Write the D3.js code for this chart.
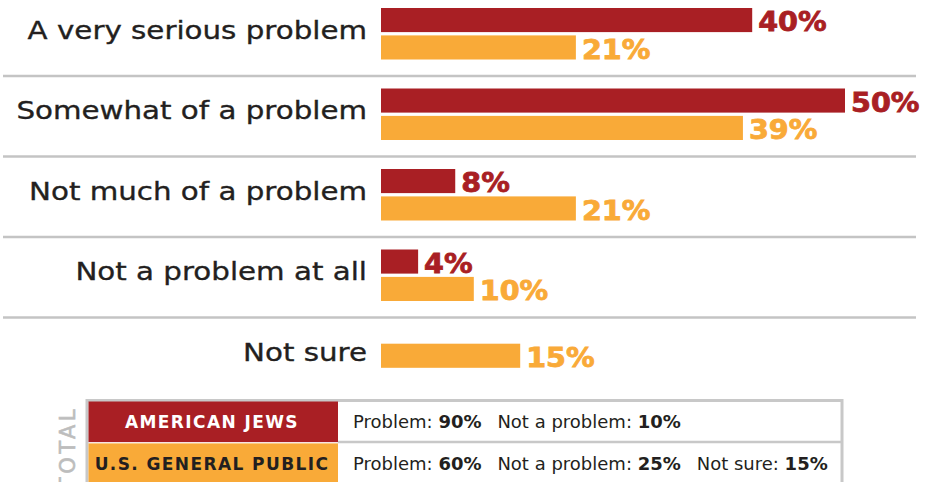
<!DOCTYPE html>
<html>
<head>
<meta charset="utf-8">
<script src="https://cdn.jsdelivr.net/npm/d3@7"></script>
<style>
  html, body { margin: 0; padding: 0; background: #fff; }
  svg { display: block; }
  .cat { font-family: "DejaVu Sans", sans-serif; font-size: 25.5px; fill: #231f20; stroke: #231f20; stroke-width: 0.35px; }
  .val { font-family: "DejaVu Sans", sans-serif; font-weight: 700; font-size: 26px; stroke-width: 0.8px; }
  .key { font-family: "DejaVu Sans", sans-serif; font-weight: 700; font-size: 17px; letter-spacing: 1.4px; }
  .summary { font-family: "DejaVu Sans", sans-serif; font-size: 17px; fill: #231f20; }
  .summary .b { font-weight: 700; }
</style>
</head>
<body>
<svg id="chart" width="925" height="482"></svg>
<script>
// Responses to "How much of a problem is antisemitism?"
const categories = ["A very serious problem", "Somewhat of a problem", "Not much of a problem", "Not a problem at all", "Not sure"];
const groups = ["American Jews", "U.S. General Public"];
const jewsValues = [40, 50, 8, 4, null];
const publicValues = [21, 39, 21, 10, 15];
const colors = ["#a91f24", "#f9aa38"];

// Totals summary rows
const keyLabels = ["AMERICAN JEWS", "U.S. GENERAL PUBLIC"];
const summaryItems = [
  [["Problem: ", "90%"], ["Not a problem: ", "10%"]],
  [["Problem: ", "60%"], ["Not a problem: ", "25%"], ["Not sure: ", "15%"]]
];

const svg = d3.select("#chart");

const x = d3.scaleLinear().domain([0, 50]).range([381, 845]);
const y = d3.scaleBand().domain(categories).range([0, 402.5]).paddingInner(0);
const ySub = d3.scaleBand().domain(groups).range([8, 59.5]).paddingInner(0.12);
const color = d3.scaleOrdinal().domain(groups).range(colors);

const rows = categories.map((c, i) => {
  const values = [
    { group: groups[0], value: jewsValues[i] },
    { group: groups[1], value: publicValues[i] }
  ].filter(d => d.value != null);
  // a row with a single series keeps its bar centred in the row
  const mid = (ySub.range()[0] + ySub.range()[1]) / 2;
  const n = values.length;
  values.forEach((d, j) => {
    d.y = mid - ySub.bandwidth() / 2 + (j - (n - 1) / 2) * ySub.step();
  });
  return { category: c, values };
});

// Separators between categories
svg.append("g")
  .selectAll("line")
  .data(categories.slice(0, -1))
  .join("line")
  .attr("x1", 3).attr("x2", 916)
  .attr("y1", d => y(d) + 76).attr("y2", d => y(d) + 76)
  .attr("stroke", "#c4c4c4").attr("stroke-width", 2.5);

const g = svg.append("g")
  .selectAll("g")
  .data(rows)
  .join("g")
  .attr("transform", d => `translate(0,${y(d.category)})`);

g.append("text")
  .attr("class", "cat")
  .attr("transform", "translate(367,38.5) scale(1.15,1)")
  .attr("text-anchor", "end")
  .text(d => d.category);

g.selectAll("rect")
  .data(d => d.values)
  .join("rect")
  .attr("x", x(0))
  .attr("y", d => d.y)
  .attr("width", d => x(d.value) - x(0))
  .attr("height", ySub.bandwidth())
  .attr("fill", d => color(d.group));

g.selectAll("text.val")
  .data(d => d.values)
  .join("text")
  .attr("class", "val")
  .attr("transform", d => `translate(${x(d.value) + 6},${d.y + ySub.bandwidth() - 1}) scale(1.1,1)`)
  .attr("fill", d => color(d.group))
  .attr("stroke", d => color(d.group))
  .text(d => d.value + "%");

// Totals box
const box = svg.append("g");
const keyY = d3.scaleBand().domain(keyLabels).range([401.5, 484]).paddingInner(0.03);

box.append("rect")
  .attr("x", 87).attr("y", 400.5)
  .attr("width", 755).attr("height", 100)
  .attr("fill", "#fff").attr("stroke", "#c8c8c8").attr("stroke-width", 3);

box.append("line")
  .attr("x1", 338).attr("x2", 843)
  .attr("y1", 442).attr("y2", 442)
  .attr("stroke", "#c8c8c8").attr("stroke-width", 2.5);

box.selectAll("rect.key")
  .data(keyLabels)
  .join("rect")
  .attr("class", "key")
  .attr("x", 88.5)
  .attr("y", d => keyY(d))
  .attr("width", 249.5)
  .attr("height", keyY.bandwidth())
  .attr("fill", (d, i) => colors[i]);

box.selectAll("text.key")
  .data(keyLabels)
  .join("text")
  .attr("class", "key")
  .attr("x", 212)
  .attr("y", d => keyY(d) + keyY.bandwidth() / 2 + 6.5)
  .attr("text-anchor", "middle")
  .attr("fill", (d, i) => i === 0 ? "#ffffff" : "#231f20")
  .text(d => d);

box.selectAll("text.summary")
  .data(summaryItems)
  .join("text")
  .attr("class", "summary")
  .attr("transform", (d, i) => `translate(353,${keyY(keyLabels[i]) + keyY.bandwidth() / 2 + 6.5}) scale(1.06,1)`)
  .each(function(items) {
    const t = d3.select(this);
    items.forEach((it, j) => {
      t.append("tspan").attr("dx", j === 0 ? 0 : 15).text(it[0]);
      t.append("tspan").attr("class", "b").text(it[1]);
    });
  });

svg.append("text")
  .attr("transform", "translate(75,406) rotate(-90)")
  .attr("text-anchor", "end")
  .attr("font-family", "DejaVu Sans, sans-serif")
  .attr("font-size", 21)
  .attr("letter-spacing", 3.5)
  .attr("fill", "#bdbdbd")
  .attr("stroke", "#bdbdbd")
  .attr("stroke-width", 0.6)
  .text("TOTAL");
</script>
</body>
</html>
